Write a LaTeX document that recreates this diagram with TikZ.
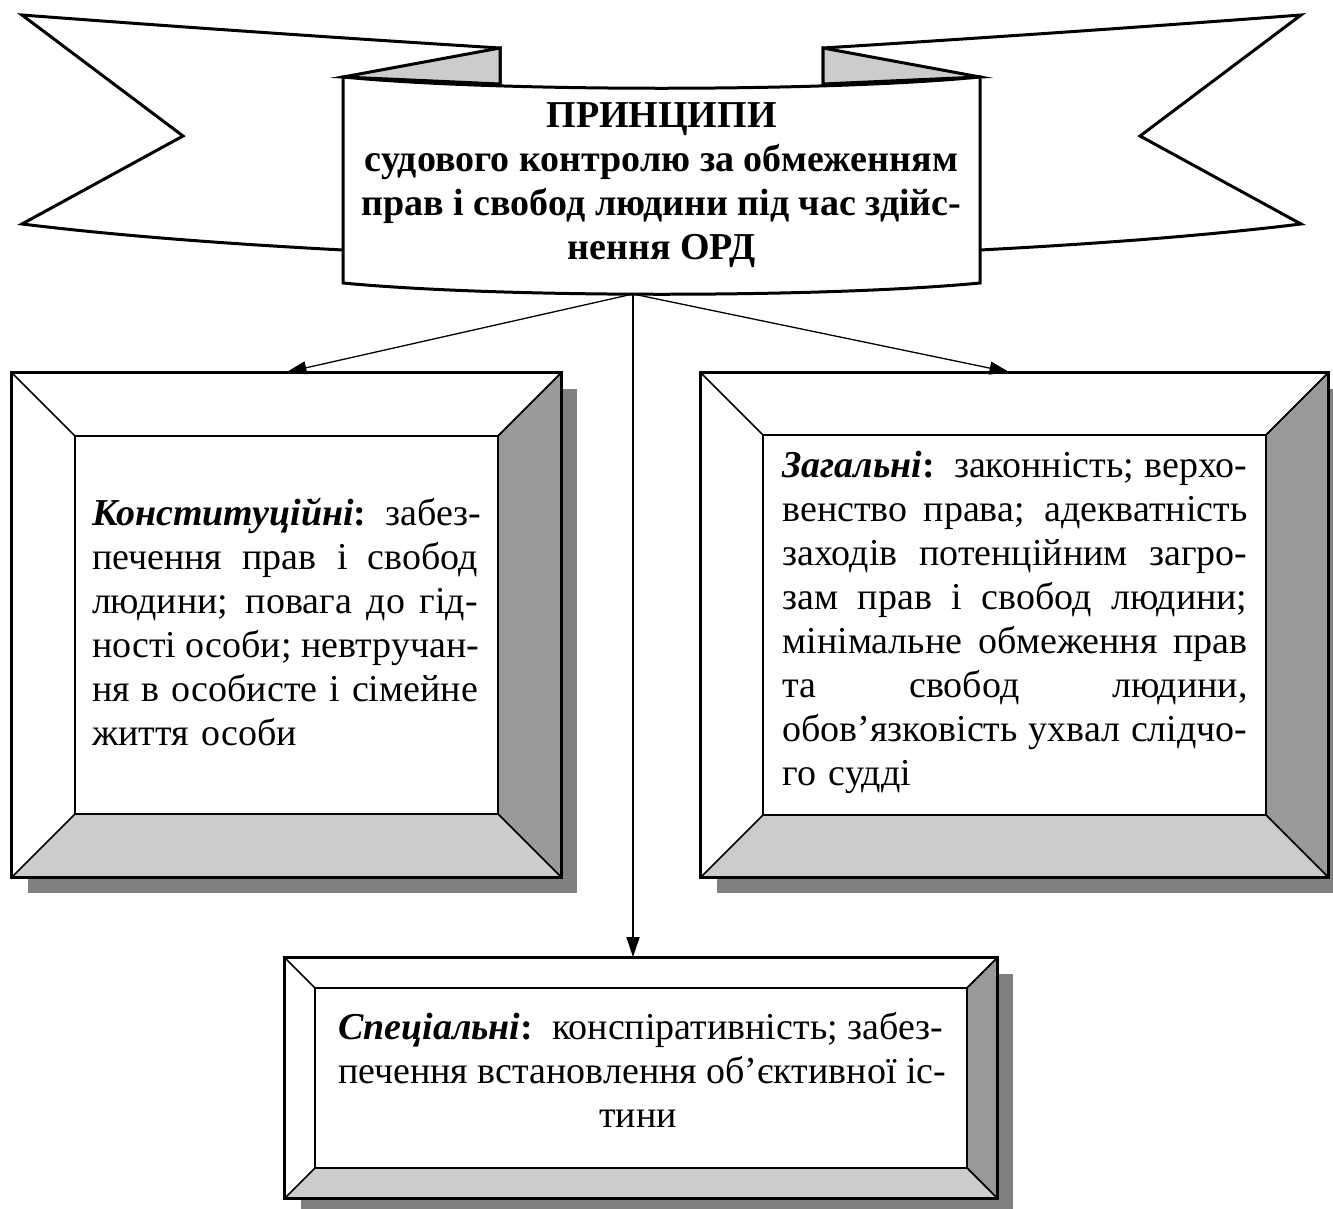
\documentclass[tikz,border=0pt]{standalone}
\usepackage{fontspec}
\setmainfont{Liberation Serif}
\usetikzlibrary{arrows.meta,calc}
\definecolor{shad}{HTML}{808080}
\definecolor{bevR}{HTML}{999999}
\definecolor{bevB}{HTML}{CCCCCC}
\newcommand\jl[2]{\leavevmode\hbox to #1{\spaceskip=0.25em plus 1fil\relax #2}}
\tikzset{
  band/.style={line width=3pt, draw=black, fill=white, line join=miter},
  boxline/.style={line width=1.6pt, draw=black, line join=miter},
  boxouter/.style={boxline, fill=white, inner sep=0pt, rectangle},
  btxt/.style={font=\fontsize{38}{44}\selectfont, inner sep=0pt, align=left},
  arr/.style={line width=1.3pt, -{Triangle[length=20pt,width=13pt]}},
}
\newcommand\bevbox[6]{%
  \fill[shad] ({#2+16},{#3+16}) rectangle ({#4+16},{#5+16});
  \node[boxouter, minimum width={(#4-#2)*1pt}, minimum height={(#5-#3)*1pt}] (#1) at ({(#2+#4)/2},{(#3+#5)/2}) {};
  \filldraw[boxline, fill=bevR] (#4,#3) -- (#4,#5) -- ({#4-#6},{#5-#6}) -- ({#4-#6},{#3+#6}) -- cycle;
  \filldraw[boxline, fill=bevB] (#2,#5) -- (#4,#5) -- ({#4-#6},{#5-#6}) -- ({#2+#6},{#5-#6}) -- cycle;
  \draw[boxline] ({#2+#6},{#3+#6}) rectangle ({#4-#6},{#5-#6});
  \draw[boxline] (#2,#3) -- ({#2+#6},{#3+#6}) (#4,#3) -- ({#4-#6},{#3+#6});
  \draw[boxline] (#1.north west) rectangle (#1.south east);
}
\begin{document}
\begin{tikzpicture}[x=1pt,y=-1pt]
\useasboundingbox (0,0) rectangle (1333,1208);
% ---- banner ----
% left tail
\filldraw[band] (22,15) .. controls (180,27) and (340,38) .. (500,48) -- (500,90) -- (343,250)
  .. controls (230,244) and (120,236) .. (22,224) -- (183,136) -- cycle;
% right tail
\filldraw[band] (1301,15) .. controls (1143,27) and (983,38) .. (823,48) -- (823,90) -- (980,250)
  .. controls (1093,244) and (1203,236) .. (1301,224) -- (1140,136) -- cycle;
% folds
\filldraw[band, fill=bevB] (343,77) -- (500,48) -- (500,84) -- cycle;
\filldraw[band, fill=bevB] (980,77) -- (823,48) -- (823,84) -- cycle;
% front
\filldraw[band] (343,77) .. controls (500,92) and (823,92) .. (980,77) -- (980,283)
  .. controls (823,298) and (500,298) .. (343,283) -- cycle;
\node[btxt, font=\fontsize{38}{44}\selectfont\bfseries, align=center] (title) at (661.5,185)
  {ПРИНЦИПИ\\ судового контролю за обмеженням\\ прав і свобод людини під час здійс-\\ нення ОРД};
\coordinate (src) at (633,294);
% ---- boxes ----
\bevbox{lbox}{12}{373}{561}{877}{63}
\bevbox{rbox}{701}{373}{1328}{877}{62}
\bevbox{bbox}{285}{958}{997}{1198}{30}
\node[btxt, text width=386pt] (ltext) at (285,622) {%
\jl{386pt}{\textbf{\textit{Конституційні}:} забез-}\\
\jl{386pt}{печення прав і свобод}\\
\jl{386pt}{людини; повага до гід-}\\
\jl{386pt}{ності особи; невтручан-}\\
\jl{386pt}{ня в особисте і сімейне}\\
життя особи};
\node[btxt, text width=465pt] (rtext) at (1015,622) {%
\jl{465pt}{\textbf{\textit{Загальні}:} законність; верхо-}\\
\jl{465pt}{венство права; адекватність}\\
\jl{465pt}{заходів потенційним загро-}\\
\jl{465pt}{зам прав і свобод людини;}\\
\jl{465pt}{мінімальне обмеження прав}\\
\jl{465pt}{та свобод людини,}\\
\jl{465pt}{обов’язковість ухвал слідчо-}\\
го судді};
\node[btxt, text width=600pt, align=center] (btext) at (638,1070) {%
\jl{600pt}{\textbf{\textit{Спеціальні}:} конспіративність; забез-}\\
\jl{600pt}{печення встановлення об’єктивної іс-}\\
тини};
% ---- connectors ----
\draw[arr] (src) -- (lbox.north);
\draw[arr] (src) -- ([xshift=-5pt]rbox.north);
\draw[arr] (src) -- (src |- bbox.north);
\end{tikzpicture}
\end{document}
